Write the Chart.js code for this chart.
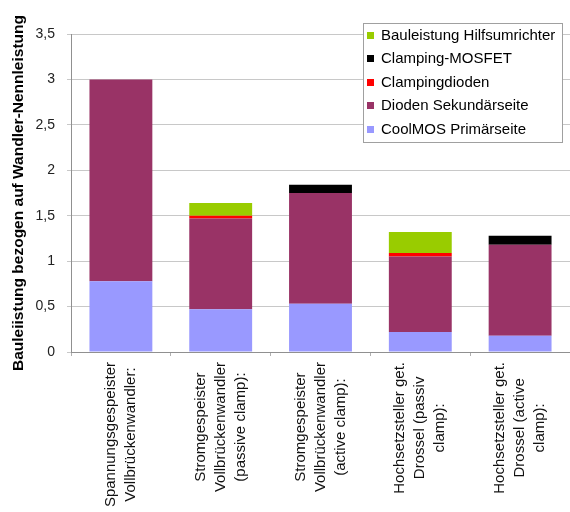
<!DOCTYPE html>
<html>
<head>
<meta charset="utf-8">
<script src="https://cdn.jsdelivr.net/npm/chart.js@4/dist/chart.umd.min.js"></script>
<style>
  html, body { margin: 0; padding: 0; background: #fff; }
  #wrap { width: 570px; height: 512px; }
</style>
</head>
<body>
<div id="wrap"><canvas id="c" width="570" height="512"></canvas></div>
<script>
// Converter topologies (each entry is the list of label lines)
const categories = [
  ["Spannungsgespeister", "Vollbrückenwandler:"],
  ["Stromgespeister", "Vollbrückenwandler", "(passive clamp):"],
  ["Stromgespeister", "Vollbrückenwandler", "(active clamp):"],
  ["Hochsetzsteller get.", "Drossel (passiv", "clamp):"],
  ["Hochsetzsteller get.", "Drossel (active", "clamp):"]
];

// Component ratings relative to converter rating, stacked bottom to top
const coolmosPrimaer   = [0.78, 0.47, 0.53, 0.22, 0.18];
const diodenSekundaer  = [2.22, 1.00, 1.22, 0.83, 1.00];
const clampingdioden   = [0.00, 0.03, 0.00, 0.04, 0.00];
const clampingMosfet   = [0.00, 0.00, 0.09, 0.00, 0.10];
const hilfsumrichter   = [0.00, 0.14, 0.00, 0.23, 0.00];

const yTicks = [0, 0.5, 1, 1.5, 2, 2.5, 3, 3.5];
const yTitle = "Bauleiistung bezogen auf Wandler-Nennleistung";

const FONT = "'Liberation Sans', Arial, Helvetica, sans-serif";

// Legend box drawn inside the plot, listing the top segment first
const boxLegend = {
  id: 'boxLegend',
  afterDraw(chart) {
    const ctx = chart.ctx;
    const x = 363, y = 23, w = 199, h = 119;
    ctx.save();
    ctx.fillStyle = '#ffffff';
    ctx.fillRect(x, y, w, h);
    ctx.strokeStyle = '#a0a0a0';
    ctx.lineWidth = 1;
    ctx.strokeRect(x + 0.5, y + 0.5, w, h);
    const items = chart.data.datasets.slice().reverse();
    ctx.font = '15px ' + FONT;
    ctx.textBaseline = 'middle';
    ctx.textAlign = 'left';
    items.forEach((ds, i) => {
      const cy = y + 12 + i * 23.5;
      ctx.fillStyle = ds.backgroundColor;
      ctx.fillRect(x + 4, Math.round(cy - 3.5), 7, 7);
      ctx.fillStyle = '#000';
      ctx.fillText(ds.label, x + 18, cy + 0.5);
    });
    ctx.restore();
  }
};

// Vertical, centre-justified multi-line category labels below the x axis
const verticalLabels = {
  id: 'verticalLabels',
  afterDraw(chart) {
    const ctx = chart.ctx;
    const xs = chart.scales.x;
    const base = chart.chartArea.bottom + 10;
    const lh = 20;
    ctx.save();
    ctx.font = '15px ' + FONT;
    ctx.fillStyle = '#111';
    ctx.textAlign = 'center';
    ctx.textBaseline = 'middle';
    chart.data.labels.forEach((lines, i) => {
      const px = xs.getPixelForValue(i);
      const maxW = Math.max(...lines.map(l => ctx.measureText(l).width));
      ctx.save();
      ctx.translate(px, base);
      ctx.rotate(-Math.PI / 2);
      lines.forEach((line, j) => {
        const off = (j - (lines.length - 1) / 2) * lh;
        ctx.fillText(line, -(maxW / 2), off);
      });
      ctx.restore();
    });
    ctx.restore();
  }
};

new Chart(document.getElementById('c'), {
  type: 'bar',
  data: {
    labels: categories,
    datasets: [
      { label: 'CoolMOS Primärseite', data: coolmosPrimaer, backgroundColor: '#9999ff' },
      { label: 'Dioden Sekundärseite', data: diodenSekundaer, backgroundColor: '#993366' },
      { label: 'Clampingdioden', data: clampingdioden, backgroundColor: '#ff0000' },
      { label: 'Clamping-MOSFET', data: clampingMosfet, backgroundColor: '#000000' },
      { label: 'Bauleistung Hilfsumrichter', data: hilfsumrichter, backgroundColor: '#99cc00' }
    ]
  },
  options: {
    responsive: false,
    animation: false,
    devicePixelRatio: 1,
    layout: { padding: { top: 34, right: 0, bottom: 0, left: 0 } },
    datasets: { bar: { categoryPercentage: 1, barPercentage: 0.63, borderWidth: 0 } },
    plugins: { legend: { display: false }, tooltip: { enabled: false } },
    scales: {
      x: {
        stacked: true,
        offset: true,
        grid: { display: true, drawOnChartArea: false, drawTicks: true, tickLength: 4, color: '#b0b0b0', offset: true },
        border: { display: true, color: '#909090', width: 1 },
        ticks: { display: false },
        afterFit(scale) { scale.height = 160; }
      },
      y: {
        stacked: true,
        min: 0,
        max: 3.5,
        afterBuildTicks(scale) { scale.ticks = yTicks.map(v => ({ value: v })); },
        ticks: {
          font: { family: FONT, size: 14 },
          color: '#222',
          padding: 12,
          callback: v => String(v).replace('.', ',')
        },
        grid: { color: '#c8c8c8', tickLength: 4, drawTicks: true },
        border: { display: true, color: '#909090', width: 1 },
        title: {
          display: true,
          text: yTitle,
          color: '#000',
          font: { family: FONT, size: 15.5, weight: 'bold' },
          padding: { top: 9, bottom: 0 }
        },
        afterFit(scale) { scale.width = 71; }
      }
    }
  },
  plugins: [verticalLabels, boxLegend]
});
</script>
</body>
</html>
